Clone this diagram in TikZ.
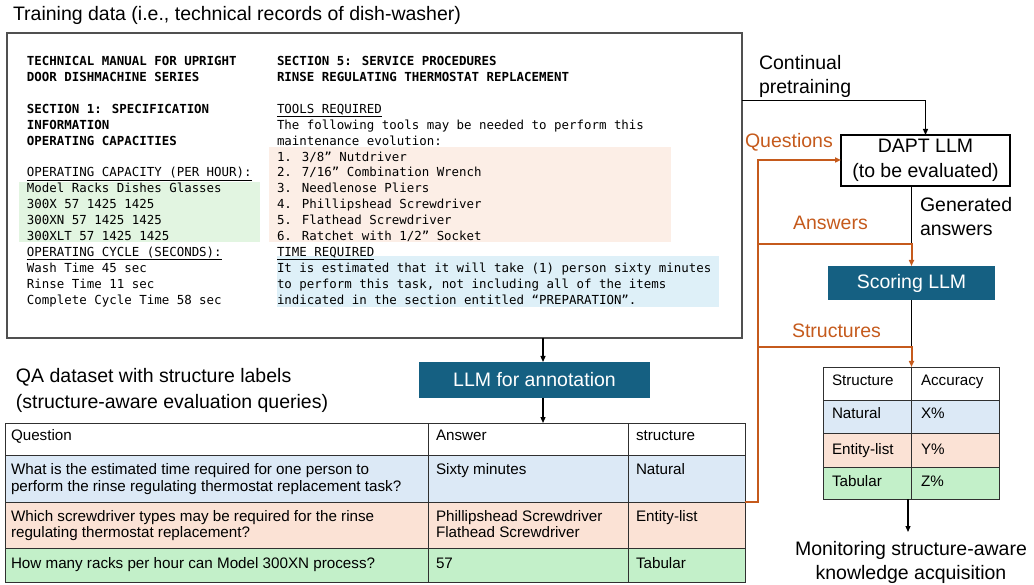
\documentclass[tikz,border=0pt]{standalone}
\usepackage{fontspec}
\setmainfont{Liberation Sans}
\newfontfamily\codefont{DejaVu Sans Mono}
\usetikzlibrary{arrows.meta}

\definecolor{llmteal}{HTML}{156082}
\definecolor{flow}{HTML}{C55A1C}
\definecolor{framegray}{HTML}{505050}
\definecolor{tabline}{HTML}{303030}
\definecolor{rowblue}{HTML}{DCE9F6}
\definecolor{rowpeach}{HTML}{FBE2D5}
\definecolor{rowgreen}{HTML}{C3F0C9}
\definecolor{hlgreen}{HTML}{E2F5E1}
\definecolor{hlpeach}{HTML}{FCEEE6}
\definecolor{hlblue}{HTML}{DEF0F8}

% one line of the service manual excerpt: name, x, line index, text
\newcommand\manline[4]{\node[mono] (#1) at (#2,{65.7+15.9*#3}) {#4};}

\begin{document}
\begin{tikzpicture}[x=1pt,y=-1pt,
  every node/.style={inner sep=0pt, outer sep=0pt},
  lbl/.style={font=\fontsize{19.5}{24}\selectfont, anchor=base west},
  tab/.style={font=\fontsize{15.2}{18}\selectfont, anchor=base west},
  mono/.style={font=\codefont\fontsize{12.44}{15.9}\selectfont, anchor=base west},
  box/.style={anchor=north west},
  cell/.style={anchor=north west, draw=tabline, line width=0.9pt},
  llmbox/.style={fill=llmteal, text=white, font=\fontsize{19.5}{24}\selectfont},
  arr/.style={draw=black, line width=1.2pt, -{Triangle[length=6pt,width=5pt]}},
  blk/.style={draw=black, line width=1.2pt},
  oarr/.style={draw=flow, line width=2pt, -{Triangle[length=6pt,width=5pt]}},
  olbl/.style={lbl, text=flow}
]
\useasboundingbox (0,0) rectangle (1034,585);

% ---------- training data ----------
\node[lbl] (title) at (13,21) {Training data (i.e., technical records of dish-washer)};
\node[box, draw=framegray, line width=1.3pt, minimum width=735pt, minimum height=305pt] (doc) at (7,33) {};

\fill[hlgreen] (19,181.7) rectangle (260,241.7);
\fill[hlpeach] (269,146.7) rectangle (671,241.7);
\fill[hlblue]  (277,256) rectangle (719,306.7);

\manline{l0}{27}{0}{\bfseries TECHNICAL MANUAL FOR UPRIGHT}
\manline{l1}{27}{1}{\bfseries DOOR DISHMACHINE SERIES}
\manline{l3}{27}{3}{\bfseries SECTION 1: SPECIFICATION}
\manline{l4}{27}{4}{\bfseries INFORMATION}
\manline{l5}{27}{5}{\bfseries OPERATING CAPACITIES}
\manline{l7}{27}{7}{\underline{OPERATING CAPACITY (PER HOUR):}}
\manline{l8}{27}{8}{Model Racks Dishes Glasses}
\manline{l9}{27}{9}{300X 57 1425 1425}
\manline{l10}{27}{10}{300XN 57 1425 1425}
\manline{l11}{27}{11}{300XLT 57 1425 1425}
\manline{l12}{27}{12}{\underline{OPERATING CYCLE (SECONDS):}}
\manline{l13}{27}{13}{Wash Time 45 sec}
\manline{l14}{27}{14}{Rinse Time 11 sec}
\manline{l15}{27}{15}{Complete Cycle Time 58 sec}

\manline{r0}{277}{0}{\bfseries SECTION 5: SERVICE PROCEDURES}
\manline{r1}{277}{1}{\bfseries RINSE REGULATING THERMOSTAT REPLACEMENT}
\manline{r3}{277}{3}{\underline{TOOLS REQUIRED}}
\manline{r4}{277}{4}{The following tools may be needed to perform this}
\manline{r5}{277}{5}{maintenance evolution:}
\manline{r6}{277}{6}{1. 3/8” Nutdriver}
\manline{r7}{277}{7}{2. 7/16” Combination Wrench}
\manline{r8}{277}{8}{3. Needlenose Pliers}
\manline{r9}{277}{9}{4. Phillipshead Screwdriver}
\manline{r10}{277}{10}{5. Flathead Screwdriver}
\manline{r11}{277}{11}{6. Ratchet with 1/2” Socket}
\manline{r12}{277}{12}{\underline{TIME REQUIRED}}
\manline{r13}{277}{13}{It is estimated that it will take (1) person sixty minutes}
\manline{r14}{277}{14}{to perform this task, not including all of the items}
\manline{r15}{277}{15}{indicated in the section entitled “PREPARATION”.}

% ---------- annotation ----------
\node[llmbox, minimum width=231pt, minimum height=36pt] (annot) at (534.5,380) {LLM for annotation};

\node[lbl] (qa1) at (16,382.7) {QA dataset with structure labels};
\node[lbl] (qa2) at (16,408) {(structure-aware evaluation queries)};

% QA table: header, natural, entity-list, tabular rows
\node[cell, fill=white, minimum width=423pt, minimum height=32pt] (h1) at (5,423) {};
\node[cell, fill=white, minimum width=200pt, minimum height=32pt] (h2) at (428,423) {};
\node[cell, fill=white, minimum width=117pt, minimum height=32pt] (h3) at (628,423) {};
\node[cell, fill=rowblue, minimum width=423pt, minimum height=47pt] (a1) at (5,455) {};
\node[cell, fill=rowblue, minimum width=200pt, minimum height=47pt] (a2) at (428,455) {};
\node[cell, fill=rowblue, minimum width=117pt, minimum height=47pt] (a3) at (628,455) {};
\node[cell, fill=rowpeach, minimum width=423pt, minimum height=46pt] (b1) at (5,502) {};
\node[cell, fill=rowpeach, minimum width=200pt, minimum height=46pt] (b2) at (428,502) {};
\node[cell, fill=rowpeach, minimum width=117pt, minimum height=46pt] (b3) at (628,502) {};
\node[cell, fill=rowgreen, minimum width=423pt, minimum height=34pt] (c1) at (5,548) {};
\node[cell, fill=rowgreen, minimum width=200pt, minimum height=34pt] (c2) at (428,548) {};
\node[cell, fill=rowgreen, minimum width=117pt, minimum height=34pt] (c3) at (628,548) {};

\node[tab] (th1) at (11,440.7) {Question};
\node[tab] (th2) at (436,440.7) {Answer};
\node[tab] (th3) at (636,440.7) {structure};
\node[tab] (ta1) at (11,474.3) {What is the estimated time required for one person to};
\node[tab] (ta1b) at (11,491) {perform the rinse regulating thermostat replacement task?};
\node[tab] (ta2) at (436,474.3) {Sixty minutes};
\node[tab] (ta3) at (636,474.3) {Natural};
\node[tab] (tb1) at (11,521) {Which screwdriver types may be required for the rinse};
\node[tab] (tb1b) at (11,537.3) {regulating thermostat replacement?};
\node[tab] (tb2) at (436,521) {Phillipshead Screwdriver};
\node[tab] (tb2b) at (436,537.3) {Flathead Screwdriver};
\node[tab] (tb3) at (636,521) {Entity-list};
\node[tab] (tc1) at (11,568.3) {How many racks per hour can Model 300XN process?};
\node[tab] (tc2) at (436,568.3) {57};
\node[tab] (tc3) at (636,568.3) {Tabular};

% ---------- evaluation ----------
\node[box, draw=black, fill=white, line width=1.3pt, minimum width=169pt, minimum height=51pt,
      anchor=center, align=center, font=\fontsize{19.5}{24.5}\selectfont] (dapt) at (925.5,160.5)
      {DAPT LLM\\(to be evaluated)};
\node[llmbox, minimum width=167pt, minimum height=34pt] (score) at (911.5,283) {Scoring LLM};

\node[lbl] (cont) at (759,69.3) {Continual};
\node[lbl] (pret) at (759,94) {pretraining};
\node[lbl] (gen1) at (920,211.7) {Generated};
\node[lbl] (gen2) at (920,236) {answers};
\node[olbl] (lq) at (745,147.3) {Questions};
\node[olbl] (la) at (793,229.3) {Answers};
\node[olbl] (ls) at (792,338) {Structures};

% structure / accuracy table
\node[cell, fill=white, minimum width=88.5pt, minimum height=33pt] (s0a) at (823,367) {};
\node[cell, fill=white, minimum width=87.5pt, minimum height=33pt] (s0b) at (911.5,367) {};
\node[cell, fill=rowblue, minimum width=88.5pt, minimum height=33pt] (s1a) at (823,400) {};
\node[cell, fill=rowblue, minimum width=87.5pt, minimum height=33pt] (s1b) at (911.5,400) {};
\node[cell, fill=rowpeach, minimum width=88.5pt, minimum height=34pt] (s2a) at (823,433) {};
\node[cell, fill=rowpeach, minimum width=87.5pt, minimum height=34pt] (s2b) at (911.5,433) {};
\node[cell, fill=rowgreen, minimum width=88.5pt, minimum height=32pt] (s3a) at (823,467) {};
\node[cell, fill=rowgreen, minimum width=87.5pt, minimum height=32pt] (s3b) at (911.5,467) {};

\node[tab] (sh1) at (832,386) {Structure};
\node[tab] (sh2) at (921,386) {Accuracy};
\node[tab] (sn1) at (832,418.3) {Natural};
\node[tab] (sn2) at (921,418.3) {X\%};
\node[tab] (se1) at (832,454) {Entity-list};
\node[tab] (se2) at (921,454) {Y\%};
\node[tab] (st1) at (832,486) {Tabular};
\node[tab] (st2) at (921,486) {Z\%};

\node[lbl, anchor=base] (mon1) at (911,555.7) {Monitoring structure-aware};
\node[lbl, anchor=base] (mon2) at (911,579.3) {knowledge acquisition};

% ---------- connectors ----------
\coordinate (ax) at (543,0);
\coordinate (ctop) at (0,100.7);
\coordinate (vq) at (758,160);
\coordinate (ja) at (758,244);
\coordinate (js) at (758,347);
\coordinate (mx) at (908,0);
\coordinate (montip) at (908,532);

\draw[arr] (doc.south -| ax) -- (annot.north -| ax);
\draw[arr] (annot.south -| ax) -- (h2.north -| ax);
\draw[arr] (doc.east |- ctop) -| (dapt.north);

\draw[blk] (dapt.south -| score) -- (ja -| score);
\draw[blk] (score.south) -- (js -| score);

\draw[oarr] (b3.north east) -| (vq) -- (vq -| dapt.west);
\draw[oarr] (ja) -| (score.north);
\draw[oarr] (js) -| (s0a.north east);

\draw[arr] (s3a.south east -| mx) -- (montip);
\end{tikzpicture}
\end{document}
